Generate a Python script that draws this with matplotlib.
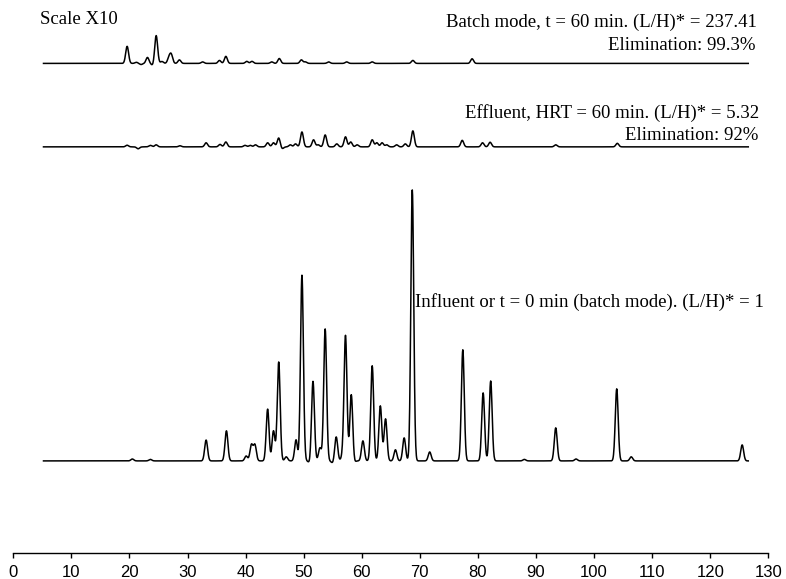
import numpy as np
import matplotlib
matplotlib.use("Agg")
from matplotlib import pyplot as plt

# peaks: retention time (min) and height
# (% of the largest influent peak, as plotted; upper traces drawn at scale x10)
infl_t = [20.5, 23.6, 33.2, 36.7, 40.1, 41.0, 41.6, 43.8, 44.1, 44.8, 45.7, 47.0,
          48.7, 49.1, 49.7, 51.1, 51.6, 52.8, 53.7, 55.0, 55.6, 56.7, 57.2, 58.2,
          58.6, 60.2, 61.8, 63.2, 64.1, 65.8, 67.3, 68.7, 71.7, 77.4, 80.9, 82.2,
          88.0, 93.4, 96.9, 103.9, 106.4, 125.5]
infl_h = [0.7, 0.55, 7.7, 11.1, 1.8, 5.9, 5.9, 19.6, -1.0, 11.1, 36.5, 1.5,
          8.1, -1.2, 68.6, -1.0, 29.5, 4.8, 48.7, -0.8, 8.9, 1.8, 46.1, 24.7,
          -1.0, 7.4, 35.1, 20.3, 15.5, 4.1, 8.5, 100.0, 3.3, 41.0, 25.1, 29.5,
          0.55, 12.2, 0.7, 26.6, 1.5, 5.9]

effl_t = [19.6, 21.5, 23.6, 24.6, 28.7, 33.2, 35.6, 36.6, 39.9, 40.8, 41.7, 43.8,
          44.8, 45.7, 46.3, 47.7, 48.6, 49.7, 51.7, 52.5, 53.7, 55.7, 57.2, 58.1,
          59.2, 61.8, 62.6, 63.5, 64.3, 66.0, 67.5, 68.8, 77.3, 80.8, 82.1, 93.4,
          104.0]
effl_h = [0.6, -0.7, 0.55, 0.75, 0.4, 1.5, 0.9, 1.8, 0.55, 0.55, 0.75, 1.5,
          1.5, 3.3, -0.7, 0.75, 1.1, 5.5, 2.6, 0.75, 4.4, 1.1, 3.7, 1.8,
          0.75, 2.6, 1.5, 1.5, 0.75, 0.75, 1.1, 5.9, 2.4, 1.5, 1.7, 0.75,
          1.3]

batch_t = [19.6, 21.2, 22.0, 23.1, 24.0, 24.6, 25.6, 26.8, 27.2, 28.6, 32.6, 35.5,
           36.6, 40.2, 41.1, 44.5, 45.8, 49.6, 50.3, 54.3, 57.4, 61.8, 68.8, 79.0]
batch_h = [6.3, 0.4, -0.4, 2.2, -0.7, 10.3, 0.7, 2.0, 3.1, 1.3, 0.55, 1.1,
           2.6, 0.75, 0.75, 0.55, 1.8, 1.3, 0.55, 0.55, 0.55, 0.55, 1.1, 1.7]

xticks = list(range(0, 131, 10))

labels_batch = ["Batch mode, t = 60 min. (L/H)* = 237.41", "Elimination: 99.3%"]
labels_effl = ["Effluent, HRT = 60 min. (L/H)* = 5.32", "Elimination: 92%"]
label_infl = "Influent or t = 0 min (batch mode). (L/H)* = 1"

# trace offsets and peak width (layout / style)
off_infl, off_effl, off_batch = 34.1, 150.0, 180.8
sigma = 0.25
t = np.arange(5.2, 126.6, 0.05)


def trace(pos, hgt):
    y = np.zeros_like(t)
    for p, h in zip(pos, hgt):
        y += h * np.exp(-0.5 * ((t - p) / sigma) ** 2)
    return y


fig = plt.figure(figsize=(7.86, 5.79), dpi=100)
ax = fig.add_axes([13.3 / 786, 25.7 / 579, 755 / 786, 553.3 / 579])

ax.plot(t, trace(infl_t, infl_h) + off_infl, color="black", lw=1.1)
ax.plot(t, trace(effl_t, effl_h) + off_effl, color="black", lw=1.1)
ax.plot(t, trace(batch_t, batch_h) + off_batch, color="black", lw=1.1)

ax.set_xlim(0, 130)
ax.set_ylim(0, 204.2)
ax.set_xticks(xticks)
ax.set_xticklabels([str(v) for v in xticks],
                   family=["Liberation Sans Narrow", "Liberation Sans", "DejaVu Sans"],
                   fontsize=12)
ax.set_yticks([])
for s in ["left", "top", "right"]:
    ax.spines[s].set_visible(False)
ax.spines["bottom"].set_bounds(0, 130)
ax.spines["bottom"].set_linewidth(1.0)
ax.tick_params(axis="x", direction="out", length=3.5, width=1.0, pad=5)
ax.patch.set_visible(False)

serif = ["Liberation Serif", "DejaVu Serif"]
fs = 13.5
fig.text(40 / 786, 1 - 19 / 579, "Scale X10", ha="left", va="center", family=serif, fontsize=fs)
fig.text(757 / 786, 1 - 22.5 / 579, labels_batch[0], ha="right", va="center", family=serif, fontsize=fs)
fig.text(755 / 786, 1 - 45 / 579, labels_batch[1], ha="right", va="center", family=serif, fontsize=fs)
fig.text(759 / 786, 1 - 113.5 / 579, labels_effl[0], ha="right", va="center", family=serif, fontsize=fs)
fig.text(758 / 786, 1 - 136 / 579, labels_effl[1], ha="right", va="center", family=serif, fontsize=fs)
fig.text(415 / 786, 1 - 302 / 579, label_infl, ha="left", va="center", family=serif, fontsize=fs)

fig.savefig("out.png", dpi=100)
